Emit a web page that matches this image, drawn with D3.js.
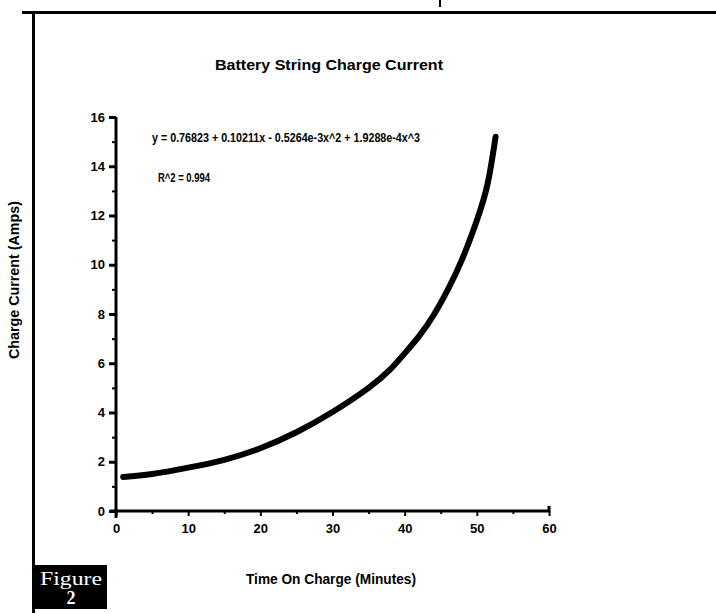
<!DOCTYPE html>
<html>
<head>
<meta charset="utf-8">
<script src="https://cdn.jsdelivr.net/npm/d3@7"></script>
<style>
  html, body { margin: 0; padding: 0; background: #fff; }
  svg { display: block; }
</style>
</head>
<body>
<div id="chart"></div>
<script>
// values
const minutes = [1, 5, 10, 15, 20, 25, 30, 35, 38, 40, 42, 44, 46, 48, 50, 51.5, 52.6];
const amps = [1.38, 1.5, 1.76, 2.08, 2.55, 3.2, 4.02, 5.0, 5.75, 6.4, 7.1, 7.95, 9.0, 10.25, 11.8, 13.3, 15.2];
const xTicks = [0, 10, 20, 30, 40, 50, 60];
const yTicks = [0, 2, 4, 6, 8, 10, 12, 14, 16];
const title = 'Battery String Charge Current';
const fitText = 'y = 0.76823 + 0.10211x - 0.5264e-3x^2 + 1.9288e-4x^3';
const r2Text = 'R^2 = 0.994';

const W = 716, H = 613;
const FONT = '"Liberation Sans Narrow", "Arial Narrow", "Liberation Sans", sans-serif';
const SERIF = '"Liberation Serif", "DejaVu Serif", serif';
const svg = d3.select('#chart').append('svg').attr('width', W).attr('height', H);

// scanned page frame
svg.append('line').attr('x1', 22).attr('x2', W).attr('y1', 12.5).attr('y2', 12.5).attr('stroke', '#000').attr('stroke-width', 3);
svg.append('line').attr('x1', 33.5).attr('x2', 33.5).attr('y1', 11).attr('y2', H).attr('stroke', '#000').attr('stroke-width', 3);
svg.append('line').attr('x1', 440).attr('x2', 440).attr('y1', 0).attr('y2', 7).attr('stroke', '#000').attr('stroke-width', 2);

const x = d3.scaleLinear().domain([0, 60]).range([116, 549]);
const y = d3.scaleLinear().domain([0, 16]).range([511, 117]);

svg.append('text').attr('x', 329).attr('y', 70).attr('text-anchor', 'middle')
  .attr('font-family', FONT).attr('font-weight', 700).attr('font-size', 15.5)
  .attr('textLength', 228).attr('lengthAdjust', 'spacingAndGlyphs').text(title);

// y axis
const yAxis = svg.append('g').attr('transform', `translate(${x(0)},0)`)
  .call(d3.axisLeft(y).tickValues(d3.range(0, 17, 1)).tickSize(4).tickFormat(d => yTicks.includes(d) ? d : ''));
yAxis.select('.domain').attr('stroke-width', 3).attr('d', `M0,${y(16)}V${y(0) + 7}`);
yAxis.selectAll('.tick line').attr('stroke-width', d => yTicks.includes(d) ? 3 : 2).attr('x2', d => yTicks.includes(d) ? -7 : -4);
yAxis.selectAll('.tick text').attr('x', -11).attr('font-family', FONT).attr('font-weight', 700).attr('font-size', 13);

// x axis
const xAxis = svg.append('g').attr('transform', `translate(0,${y(0)})`)
  .call(d3.axisBottom(x).tickValues(d3.range(0, 61, 5)).tickSize(4).tickFormat(d => xTicks.includes(d) ? d : ''));
xAxis.select('.domain').attr('stroke-width', 3).attr('d', `M${x(0) - 6},0H${x(60)}V-5`);
xAxis.selectAll('.tick line').attr('stroke-width', 2).attr('y2', d => xTicks.includes(d) ? 5 : 3);
xAxis.selectAll('.tick text').attr('y', 13).attr('font-family', FONT).attr('font-weight', 700).attr('font-size', 13);
svg.selectAll('.domain, .tick line').attr('stroke', '#000');

// fitted curve
const pts = minutes.map((m, i) => [m, amps[i]]);
svg.append('path').datum(pts)
  .attr('fill', 'none').attr('stroke', '#000').attr('stroke-width', 6).attr('stroke-linecap', 'round')
  .attr('d', d3.line().x(d => x(d[0])).y(d => y(d[1])).curve(d3.curveNatural));

// regression annotation
svg.append('text').attr('x', 152).attr('y', 142).attr('font-family', FONT).attr('font-weight', 700)
  .attr('font-size', 13).attr('textLength', 268).attr('lengthAdjust', 'spacingAndGlyphs').text(fitText);
svg.append('text').attr('x', 158).attr('y', 182).attr('font-family', FONT).attr('font-weight', 700)
  .attr('font-size', 13).attr('textLength', 52).attr('lengthAdjust', 'spacingAndGlyphs').text(r2Text);

// axis titles
svg.append('text').attr('x', 331).attr('y', 584).attr('text-anchor', 'middle')
  .attr('font-family', FONT).attr('font-weight', 700).attr('font-size', 14.5)
  .attr('textLength', 170).attr('lengthAdjust', 'spacingAndGlyphs').text('Time On Charge (Minutes)');
svg.append('text').attr('transform', 'translate(19,280) rotate(-90)').attr('text-anchor', 'middle')
  .attr('font-family', FONT).attr('font-weight', 700).attr('font-size', 14.5)
  .attr('textLength', 158).attr('lengthAdjust', 'spacingAndGlyphs').text('Charge Current (Amps)');

// figure badge
svg.append('rect').attr('x', 35).attr('y', 565).attr('width', 72).attr('height', 44).attr('fill', '#000');
svg.append('text').attr('x', 71).attr('y', 585).attr('text-anchor', 'middle').attr('fill', '#fff')
  .attr('font-family', SERIF).attr('font-size', 19).attr('textLength', 62).attr('lengthAdjust', 'spacingAndGlyphs').text('Figure');
svg.append('text').attr('x', 71).attr('y', 604).attr('text-anchor', 'middle').attr('fill', '#fff')
  .attr('font-family', SERIF).attr('font-weight', 700).attr('font-size', 18).text('2');
</script>
</body>
</html>
